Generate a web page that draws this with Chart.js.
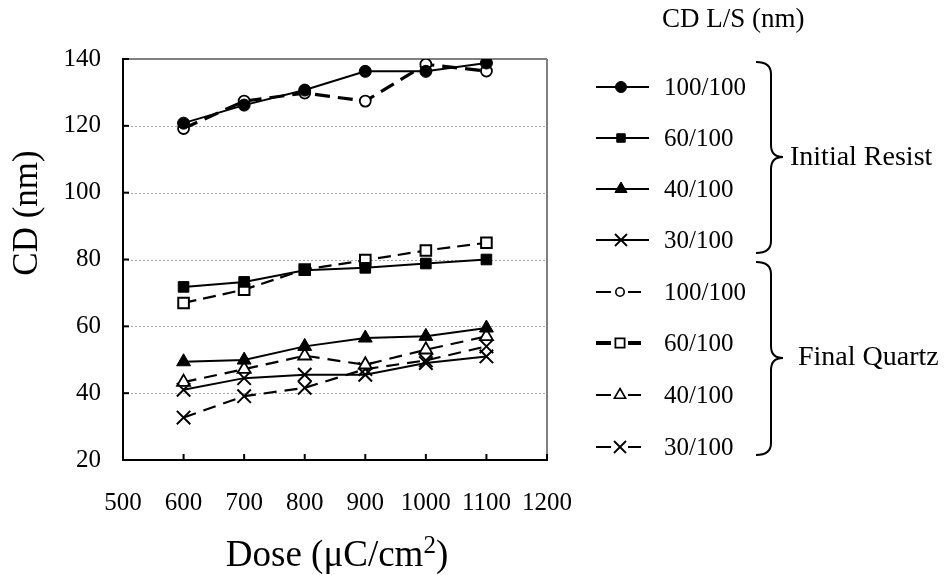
<!DOCTYPE html>
<html>
<head>
<meta charset="utf-8">
<script src="https://cdn.jsdelivr.net/npm/chart.js@4/dist/chart.umd.min.js"></script>
<style>
html,body{margin:0;padding:0;background:#fff;}
#wrap{width:948px;height:575px;position:relative;}
</style>
</head>
<body>
<div id="wrap"><canvas id="c" width="948" height="575"></canvas></div>
<script>
// ---- data ----
const doses = [600, 700, 800, 900, 1000, 1100];
const seriesLabels = ['100/100', '60/100', '40/100', '30/100'];
const initialResist100 = [120.8, 126.2, 130.7, 136.3, 136.3, 138.8];
const initialResist60  = [71.8, 73.3, 76.8, 77.5, 78.8, 80.0];
const initialResist40  = [49.4, 49.9, 54.0, 56.5, 57.0, 59.5];
const initialResist30  = [41.0, 44.5, 45.5, 45.5, 49.0, 51.0];
const finalQuartz100   = [119.2, 127.4, 129.8, 127.4, 138.4, 136.4];
const finalQuartz60    = [67.0, 71.0, 77.0, 79.8, 82.7, 85.0];
const finalQuartz40    = [43.3, 47.2, 51.2, 48.5, 53.0, 57.0];
const finalQuartz30    = [32.7, 39.1, 41.6, 47.2, 49.8, 54.0];
const xTicks = [500, 600, 700, 800, 900, 1000, 1100, 1200];
const yTicks = [20, 40, 60, 80, 100, 120, 140];
const groupLabels = ['Initial Resist', 'Final Quartz'];
const legendTitle = 'CD L/S (nm)';
const xTitle = ['Dose (\u03BCC/cm', '2', ')'];
const yTitle = 'CD (nm)';

const SERIF = '"Liberation Serif", "Times New Roman", serif';
const pts = arr => arr.map((v, i) => ({x: doses[i], y: v}));

function ds(label, data, o) {
  return Object.assign({
    label, data: pts(data), borderColor: '#000', pointBorderColor: '#000',
    tension: 0, fill: false
  }, o);
}

const datasets = [
  ds('IR ' + seriesLabels[0], initialResist100, {borderWidth: 2, pointStyle: 'circle', pointRadius: 6, pointBackgroundColor: '#000', pointBorderWidth: 1}),
  ds('IR ' + seriesLabels[1], initialResist60, {borderWidth: 2, pointStyle: 'rect', pointRadius: 7.5, pointBackgroundColor: '#000', pointBorderWidth: 1}),
  ds('IR ' + seriesLabels[2], initialResist40, {borderWidth: 2, pointStyle: 'triangle', pointRadius: 8, pointBackgroundColor: '#000', pointBorderWidth: 1}),
  ds('IR ' + seriesLabels[3], initialResist30, {borderWidth: 2, pointStyle: 'crossRot', pointRadius: 9.5, pointBackgroundColor: '#000', pointBorderWidth: 2}),
  ds('FQ ' + seriesLabels[0], finalQuartz100, {borderWidth: 3.2, borderDash: [15, 8], pointStyle: 'circle', pointRadius: 5.5, pointBackgroundColor: '#fff', pointBorderWidth: 1.8}),
  ds('FQ ' + seriesLabels[1], finalQuartz60, {borderWidth: 2.2, borderDash: [13, 7], pointStyle: 'rect', pointRadius: 7.5, pointBackgroundColor: '#fff', pointBorderWidth: 2}),
  ds('FQ ' + seriesLabels[2], finalQuartz40, {borderWidth: 2.2, borderDash: [13, 8], pointStyle: 'triangle', pointRadius: 7.5, pointBackgroundColor: '#fff', pointBorderWidth: 1.8}),
  ds('FQ ' + seriesLabels[3], finalQuartz30, {borderWidth: 2.2, borderDash: [13, 8], pointStyle: 'crossRot', pointRadius: 9.5, pointBackgroundColor: '#fff', pointBorderWidth: 2})
];

// legend sample settings per dataset
const legendRows = [87, 138, 189, 240, 292, 343, 395, 447];
const legendMarker = [
  {style: 'circle', r: 5.5, fill: '#000', bw: 1, lw: 2, dashed: false},
  {style: 'rect', r: 6, fill: '#000', bw: 1, lw: 2, dashed: false},
  {style: 'triangle', r: 7, fill: '#000', bw: 1, lw: 2, dashed: false},
  {style: 'crossRot', r: 8.5, fill: '#000', bw: 1.8, lw: 2, dashed: false},
  {style: 'circle', r: 4.2, fill: '#fff', bw: 1.6, lw: 2, dashed: true},
  {style: 'rect', r: 6.5, fill: '#fff', bw: 1.8, lw: 4, dashed: true},
  {style: 'triangle', r: 6.5, fill: '#fff', bw: 1.6, lw: 2, dashed: true},
  {style: 'crossRot', r: 8.5, fill: '#fff', bw: 1.8, lw: 2, dashed: true}
];

function line(ctx, x1, y1, x2, y2) { ctx.beginPath(); ctx.moveTo(x1, y1); ctx.lineTo(x2, y2); ctx.stroke(); }

function marker(ctx, m, x, y) {
  ctx.save();
  ctx.fillStyle = m.fill; ctx.strokeStyle = '#000'; ctx.lineWidth = m.bw; ctx.setLineDash([]);
  Chart.helpers.drawPoint(ctx, {pointStyle: m.style, radius: m.r, rotation: 0, borderWidth: m.bw}, x, y);
  ctx.restore();
}

function brace(ctx, xl, xm, xt, yT, yM, yB) {
  const c = 12;
  ctx.beginPath();
  ctx.moveTo(xl, yT);
  ctx.quadraticCurveTo(xm, yT, xm, yT + c);
  ctx.lineTo(xm, yM - c);
  ctx.quadraticCurveTo(xm, yM, xt, yM);
  ctx.moveTo(xt, yM);
  ctx.quadraticCurveTo(xm, yM, xm, yM + c);
  ctx.lineTo(xm, yB - c);
  ctx.quadraticCurveTo(xm, yB, xl, yB);
  ctx.stroke();
}

const decor = {
  id: 'decor',
  beforeDatasetsDraw(chart) {
    const {ctx, chartArea: a, scales: {x, y}} = chart;
    ctx.save();
    ctx.strokeStyle = '#a8a8a8'; ctx.lineWidth = 1; ctx.setLineDash([2, 2]);
    yTicks.forEach(v => {
      if (v > yTicks[0] && v < yTicks[yTicks.length - 1]) {
        const py = Math.round(y.getPixelForValue(v)) + 0.5;
        line(ctx, a.left, py, a.right, py);
      }
    });
    ctx.setLineDash([]);
    ctx.strokeStyle = '#808080'; ctx.lineWidth = 2;
    line(ctx, a.left, a.top, a.right, a.top);
    line(ctx, a.right, a.top, a.right, a.bottom);
    ctx.strokeStyle = '#000'; ctx.lineWidth = 2;
    line(ctx, a.left, a.top - 1, a.left, a.bottom + 1);
    line(ctx, a.left - 1, a.bottom, a.right + 1, a.bottom);
    yTicks.forEach(v => { const py = y.getPixelForValue(v); line(ctx, a.left, py, a.left + 6, py); });
    xTicks.forEach(v => { const px = x.getPixelForValue(v); line(ctx, px, a.bottom, px, a.bottom - 6); });
    ctx.restore();
  },
  afterDraw(chart) {
    const {ctx, chartArea: a} = chart;
    ctx.save();
    ctx.fillStyle = '#000';
    ctx.save();
    ctx.translate(28, 213); ctx.rotate(-Math.PI / 2);
    ctx.font = '35px ' + SERIF; ctx.textAlign = 'center'; ctx.textBaseline = 'middle';
    ctx.fillText(yTitle, 0, 0);
    ctx.restore();
    const bigF = '37px ' + SERIF, smallF = '25px ' + SERIF;
    ctx.font = bigF; const w1 = ctx.measureText(xTitle[0]).width, w3 = ctx.measureText(xTitle[2]).width;
    ctx.font = smallF; const w2 = ctx.measureText(xTitle[1]).width;
    let sx = (a.left + a.right) / 2 + 2 - (w1 + w2 + w3) / 2;
    const by = 566;
    ctx.textBaseline = 'alphabetic'; ctx.textAlign = 'left';
    ctx.font = bigF; ctx.fillText(xTitle[0], sx, by); sx += w1;
    ctx.font = smallF; ctx.fillText(xTitle[1], sx, by - 13); sx += w2;
    ctx.font = bigF; ctx.fillText(xTitle[2], sx, by);
    ctx.textBaseline = 'middle';
    ctx.font = '27px ' + SERIF; ctx.fillText(legendTitle, 662, 20);
    datasets.forEach((d, i) => {
      const m = legendMarker[i], yy = legendRows[i];
      ctx.strokeStyle = '#000'; ctx.lineWidth = m.lw; ctx.setLineDash([]);
      if (!m.dashed) {
        line(ctx, 596, yy, 649, yy);
        marker(ctx, m, 621, yy);
      } else {
        line(ctx, 596, yy, 611, yy);
        line(ctx, 628, yy, 641, yy);
        marker(ctx, m, 620, yy);
      }
      ctx.fillStyle = '#000'; ctx.font = '25px ' + SERIF; ctx.textAlign = 'left'; ctx.textBaseline = 'middle';
      ctx.fillText(seriesLabels[i % 4], 664, yy + 1);
    });
    ctx.strokeStyle = '#000'; ctx.lineWidth = 2; ctx.setLineDash([]);
    brace(ctx, 756, 771, 783, 62, 157, 253);
    brace(ctx, 756, 771, 783, 262, 358, 455);
    ctx.font = '28px ' + SERIF; ctx.textBaseline = 'middle';
    ctx.fillText(groupLabels[0], 790, 158);
    ctx.fillText(groupLabels[1], 798, 358);
    ctx.restore();
  }
};

new Chart(document.getElementById('c'), {
  type: 'line',
  data: {datasets},
  options: {
    responsive: false, animation: false, devicePixelRatio: 1,
    layout: {padding: {left: 0, top: 59, right: 401, bottom: 0}},
    plugins: {legend: {display: false}, tooltip: {enabled: false}},
    scales: {
      x: {
        type: 'linear', min: xTicks[0], max: xTicks[xTicks.length - 1],
        afterBuildTicks: s => { s.ticks = xTicks.map(v => ({value: v})); },
        afterFit: s => { s.height = 115; },
        grid: {display: false, drawTicks: false},
        border: {display: false},
        ticks: {color: '#000', font: {family: SERIF, size: 25}, padding: 28, maxRotation: 0, autoSkip: false, callback: v => String(v)}
      },
      y: {
        type: 'linear', min: yTicks[0], max: yTicks[yTicks.length - 1],
        afterBuildTicks: s => { s.ticks = yTicks.map(v => ({value: v})); },
        afterFit: s => { s.width = 123; },
        grid: {display: false, drawTicks: false},
        border: {display: false},
        ticks: {color: '#000', font: {family: SERIF, size: 25}, padding: 22, callback: v => String(v)}
      }
    }
  },
  plugins: [decor]
});
</script>
</body>
</html>
